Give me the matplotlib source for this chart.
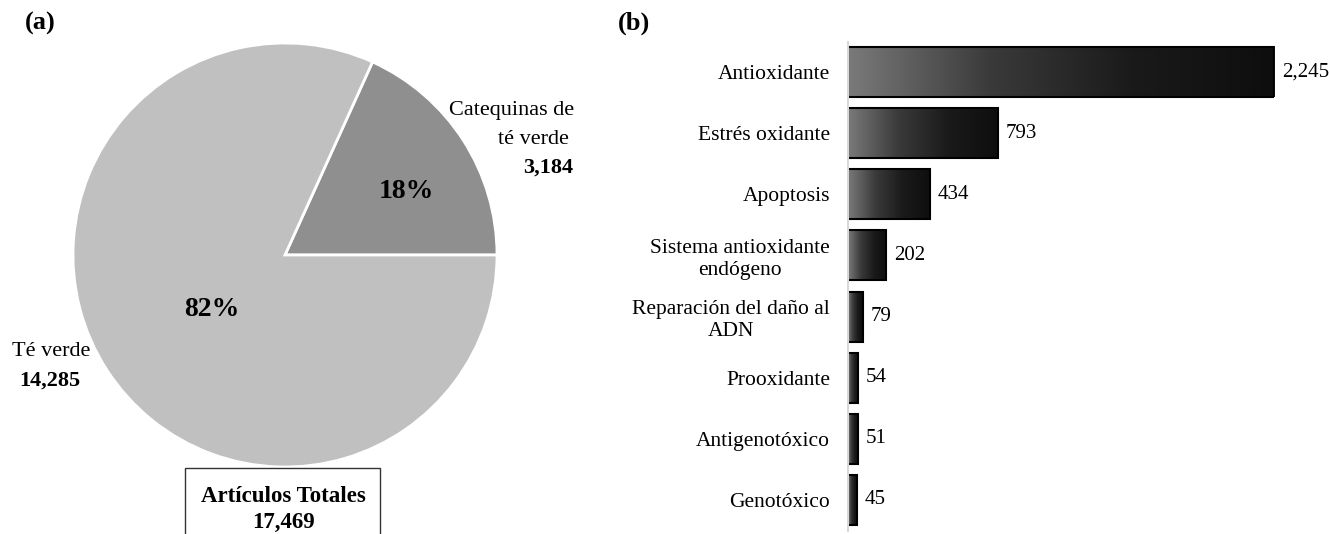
import numpy as np
import matplotlib.pyplot as plt
from matplotlib.colors import LinearSegmentedColormap
from matplotlib.patches import Rectangle

plt.rcParams['font.family'] = ['Liberation Serif', 'DejaVu Serif']

# datos
pie_labels = ['Catequinas de\nté verde', 'Té verde']
pie_values = [3184, 14285]
pie_pct = ['18%', '82%']
total = 17469

categorias = ['Antioxidante', 'Estrés oxidante', 'Apoptosis',
              'Sistema antioxidante\nendógeno', 'Reparación del daño al\nADN',
              'Prooxidante', 'Antigenotóxico', 'Genotóxico']
articulos = [2245, 793, 434, 202, 79, 54, 51, 45]

W, H = 1330, 534
fig = plt.figure(figsize=(W / 100, H / 100), dpi=100)

# (a) pie
R = 212
cx, cy = 285, H - 255
ax1 = fig.add_axes([(cx - R) / W, (cy - R) / H, 2 * R / W, 2 * R / H])
ax1.pie(pie_values, colors=['#8f8f8f', '#c0c0c0'], startangle=0, counterclock=True,
        wedgeprops=dict(edgecolor='white', linewidth=2))
ax1.set_xlim(-1, 1)
ax1.set_ylim(-1, 1)
ax1.set_aspect('auto')

def px(x, y):
    return x / W, 1 - y / H

fig.text(*px(406, 191), pie_pct[0], fontsize=20, fontweight='bold', ha='center', va='center')
fig.text(*px(212, 309), pie_pct[1], fontsize=20, fontweight='bold', ha='center', va='center')
fig.text(*px(574, 111), 'Catequinas de', fontsize=16, ha='right', va='center')
fig.text(*px(533, 140), 'té verde', fontsize=16, ha='center', va='center')
fig.text(*px(573, 168), f'{pie_values[0]:,}', fontsize=16, fontweight='bold', ha='right', va='center')
fig.text(*px(51, 352), pie_labels[1], fontsize=16, ha='center', va='center')
fig.text(*px(50, 381), f'{pie_values[1]:,}', fontsize=16, fontweight='bold', ha='center', va='center')

fig.patches.append(Rectangle(px(185, 540), 195 / W, 72 / H, transform=fig.transFigure,
                             facecolor='white', edgecolor='#333333', linewidth=1))
fig.text(*px(283, 496), 'Artículos Totales', fontsize=16.5, fontweight='bold', ha='center', va='center')
fig.text(*px(283, 522), f'{total:,}', fontsize=16.5, fontweight='bold', ha='center', va='center')

fig.text(*px(40, 23), '(a)', fontsize=19, fontweight='bold', ha='center', va='center')
fig.text(*px(634, 23), '(b)', fontsize=19, fontweight='bold', ha='center', va='center')

# (b) barras
left, right = 848, 1274
top, bottom = 41.5, 530.5
ax2 = fig.add_axes([left / W, (H - bottom) / H, (right - left) / W, (bottom - top) / H])
cmap = LinearSegmentedColormap.from_list('g', ['#7a7a7a', '#3a3a3a', '#1a1a1a', '#0e0e0e'])
grad = np.linspace(0, 1, 256).reshape(1, -1)
h = 0.82
for i, v in enumerate(articulos):
    ax2.imshow(grad, cmap=cmap, extent=(0, v, i + h / 2, i - h / 2), aspect='auto', zorder=2)
    ax2.add_patch(Rectangle((0, i - h / 2), v, h, facecolor='none', edgecolor='black',
                            linewidth=1.5, zorder=3))
    ax2.annotate(f'{v:,}', (v, i), xytext=(5.5, 0), textcoords='offset points',
                 fontsize=15, va='center', ha='left', annotation_clip=False)
ax2.set_xlim(0, 2245)
ax2.set_ylim(len(articulos) - 0.5, -0.5)
ax2.set_yticks(range(len(categorias)))
ax2.set_yticklabels(categorias, fontsize=15.5, linespacing=1.2, multialignment='center')
ax2.tick_params(axis='y', length=0, pad=13)
ax2.set_xticks([])
for s in ['top', 'right', 'bottom']:
    ax2.spines[s].set_visible(False)
ax2.spines['left'].set_color('#d9d9d9')
ax2.spines['left'].set_linewidth(1.5)
ax2.spines['left'].set_zorder(4)

fig.savefig('out.png', dpi=100)
